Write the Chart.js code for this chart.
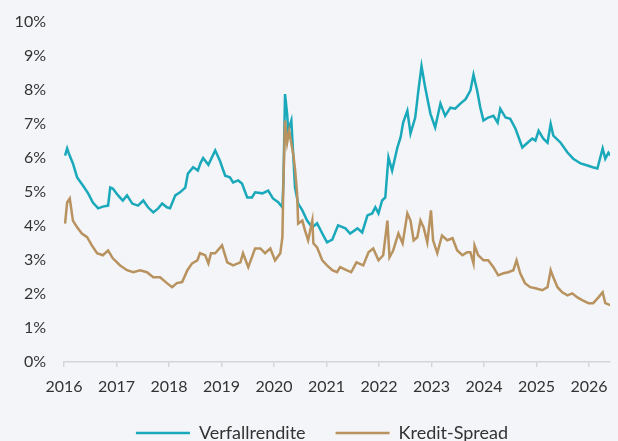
<!DOCTYPE html>
<html lang="de">
<head>
<meta charset="utf-8">
<title>Verfallrendite und Kredit-Spread</title>
<script src="https://cdn.jsdelivr.net/npm/chart.js@4/dist/chart.umd.min.js"></script>
<style>
  html, body { margin: 0; padding: 0; background: #f3f5f8; }
  #wrap { width: 618px; height: 441px; position: relative; }
</style>
</head>
<body>
<div id="wrap"><canvas id="chart"></canvas></div>
<script>
/* Werte (Dezimaljahre, Prozent) */
const yieldDates = [
  2016.02, 2016.06, 2016.10, 2016.17, 2016.25, 2016.36, 2016.46, 2016.55, 2016.65, 2016.74,
  2016.84, 2016.88, 2016.93, 2017.03, 2017.12, 2017.20, 2017.30, 2017.41, 2017.51, 2017.60,
  2017.70, 2017.79, 2017.87, 2017.96, 2018.02, 2018.12, 2018.21, 2018.31, 2018.36, 2018.46,
  2018.55, 2018.60, 2018.65, 2018.75, 2018.88, 2018.97, 2019.07, 2019.16, 2019.22, 2019.32,
  2019.39, 2019.49, 2019.58, 2019.64, 2019.78, 2019.89, 2019.98, 2020.08, 2020.16, 2020.18,
  2020.21, 2020.25, 2020.27, 2020.33, 2020.37, 2020.40, 2020.46, 2020.54, 2020.63, 2020.73,
  2020.82, 2020.92, 2021.01, 2021.11, 2021.22, 2021.36, 2021.45, 2021.59, 2021.68, 2021.78,
  2021.87, 2021.93, 2021.99, 2022.06, 2022.12, 2022.18, 2022.25, 2022.35, 2022.41, 2022.46,
  2022.54, 2022.60, 2022.69, 2022.75, 2022.81, 2022.88, 2022.98, 2023.07, 2023.17, 2023.26,
  2023.36, 2023.45, 2023.55, 2023.65, 2023.74, 2023.80, 2023.87, 2023.93, 2023.99, 2024.08,
  2024.18, 2024.26, 2024.31, 2024.41, 2024.50, 2024.60, 2024.73, 2024.83, 2024.92, 2024.98,
  2025.04, 2025.13, 2025.21, 2025.27, 2025.32, 2025.46, 2025.59, 2025.70, 2025.84, 2025.97,
  2026.07, 2026.16, 2026.26, 2026.31, 2026.37, 2026.41
];
const yieldValues = [
  6.07, 6.28, 6.10, 5.84, 5.43, 5.19, 4.96, 4.69, 4.52, 4.57,
  4.60, 5.13, 5.10, 4.90, 4.75, 4.90, 4.66, 4.60, 4.75, 4.55,
  4.40, 4.51, 4.66, 4.55, 4.52, 4.90, 4.99, 5.13, 5.54, 5.73,
  5.63, 5.85, 6.00, 5.80, 6.22, 5.92, 5.48, 5.43, 5.28, 5.34,
  5.25, 4.84, 4.84, 4.99, 4.96, 5.04, 4.81, 4.70, 4.55, 5.34,
  7.88, 7.30, 6.80, 7.10, 6.00, 5.13, 4.66, 4.46, 4.16, 3.96,
  4.08, 3.78, 3.52, 3.60, 4.02, 3.93, 3.78, 3.93, 3.81, 4.31,
  4.37, 4.55, 4.37, 4.75, 4.84, 6.02, 5.63, 6.31, 6.60, 7.04,
  7.39, 6.72, 7.19, 7.98, 8.70, 8.07, 7.30, 6.90, 7.60, 7.24,
  7.48, 7.45, 7.60, 7.73, 7.98, 8.45, 7.98, 7.48, 7.10, 7.19,
  7.24, 7.04, 7.45, 7.19, 7.15, 6.86, 6.31, 6.45, 6.57, 6.51,
  6.80, 6.57, 6.45, 7.00, 6.66, 6.45, 6.16, 5.98, 5.84, 5.78,
  5.73, 5.69, 6.28, 5.98, 6.16, 6.07
];

const spreadDates = [
  2016.02, 2016.06, 2016.11, 2016.17, 2016.25, 2016.34, 2016.44, 2016.53, 2016.63, 2016.74,
  2016.84, 2016.93, 2017.07, 2017.20, 2017.32, 2017.45, 2017.58, 2017.70, 2017.83, 2017.96,
  2018.06, 2018.15, 2018.25, 2018.35, 2018.44, 2018.54, 2018.59, 2018.69, 2018.75, 2018.80,
  2018.88, 2019.01, 2019.11, 2019.22, 2019.36, 2019.41, 2019.51, 2019.64, 2019.74, 2019.83,
  2019.93, 2020.02, 2020.12, 2020.16, 2020.18, 2020.21, 2020.25, 2020.29, 2020.37, 2020.40,
  2020.44, 2020.46, 2020.54, 2020.59, 2020.65, 2020.73, 2020.75, 2020.82, 2020.92, 2021.01,
  2021.11, 2021.20, 2021.26, 2021.38, 2021.47, 2021.57, 2021.70, 2021.80, 2021.89, 2021.99,
  2022.08, 2022.16, 2022.20, 2022.27, 2022.37, 2022.45, 2022.54, 2022.60, 2022.66, 2022.73,
  2022.79, 2022.85, 2022.92, 2022.99, 2023.03, 2023.11, 2023.20, 2023.30, 2023.40, 2023.49,
  2023.59, 2023.68, 2023.74, 2023.80, 2023.82, 2023.89, 2023.99, 2024.08, 2024.18, 2024.27,
  2024.37, 2024.46, 2024.56, 2024.62, 2024.69, 2024.78, 2024.88, 2024.98, 2025.11, 2025.21,
  2025.27, 2025.32, 2025.40, 2025.49, 2025.59, 2025.68, 2025.78, 2025.87, 2025.99, 2026.08,
  2026.18, 2026.26, 2026.31, 2026.41
];
const spreadValues = [
  4.07, 4.69, 4.81, 4.16, 3.96, 3.78, 3.67, 3.43, 3.20, 3.14,
  3.28, 3.05, 2.84, 2.70, 2.64, 2.70, 2.64, 2.49, 2.49, 2.32,
  2.20, 2.32, 2.35, 2.70, 2.90, 2.99, 3.20, 3.14, 2.90, 3.20,
  3.20, 3.43, 2.93, 2.84, 2.93, 3.20, 2.79, 3.34, 3.34, 3.20,
  3.34, 2.99, 3.20, 3.67, 5.34, 7.10, 6.45, 6.80, 6.07, 5.69,
  4.96, 4.07, 4.16, 3.87, 3.58, 4.16, 3.49, 3.37, 2.99, 2.84,
  2.70, 2.64, 2.79, 2.70, 2.64, 2.93, 2.84, 3.23, 3.34, 2.99,
  3.14, 4.16, 3.08, 3.28, 3.78, 3.49, 4.37, 4.16, 3.58, 3.67,
  4.16, 3.96, 3.52, 4.46, 3.58, 3.20, 3.72, 3.58, 3.64, 3.28,
  3.14, 3.23, 3.23, 2.90, 3.43, 3.14, 2.99, 2.99, 2.79, 2.55,
  2.61, 2.64, 2.70, 2.99, 2.61, 2.32, 2.20, 2.17, 2.11, 2.20,
  2.70, 2.49, 2.20, 2.05, 1.96, 2.02, 1.90, 1.82, 1.73, 1.73,
  1.90, 2.05, 1.73, 1.67
];

const seriesLabels = ['Verfallrendite', 'Kredit-Spread'];
const seriesColors = ['#1aa8bb', '#b8925f'];

const toPoints = (xs, ys) => xs.map((x, i) => ({ x, y: ys[i] }));

const textColor = '#333333';
const axisColor = '#d2d5da';
const fontFamily = 'Lato, "Open Sans", sans-serif';

// Legende sitzt in der Vorlage etwas rechts der Bildmitte
const legendShift = {
  id: 'legendShift',
  afterLayout(chart) {
    chart.legend.left += 17;
    chart.legend.right += 17;
  },
};

new Chart(document.getElementById('chart'), {
  type: 'line',
  data: {
    datasets: [
      {
        label: seriesLabels[0],
        data: toPoints(yieldDates, yieldValues),
        borderColor: seriesColors[0],
        backgroundColor: seriesColors[0],
        borderWidth: 2.5,
        pointRadius: 0,
        tension: 0,
        order: 1,
      },
      {
        label: seriesLabels[1],
        data: toPoints(spreadDates, spreadValues),
        borderColor: seriesColors[1],
        backgroundColor: seriesColors[1],
        borderWidth: 2.5,
        pointRadius: 0,
        tension: 0,
        order: 0,
      },
    ],
  },
  plugins: [legendShift],
  options: {
    responsive: true,
    maintainAspectRatio: false,
    animation: false,
    layout: { padding: { left: 0, right: 8, top: 22, bottom: -11 } },
    plugins: {
      tooltip: { enabled: false },
      legend: {
        position: 'bottom',
        labels: {
          usePointStyle: true,
          pointStyle: 'line',
          pointStyleWidth: 54,
          padding: 30,
          color: textColor,
          font: { family: fontFamily, size: 18 },
          sort: (a, b) => a.datasetIndex - b.datasetIndex,
        },
      },
    },
    scales: {
      x: {
        type: 'linear',
        min: 2016,
        max: 2026.4,
        afterFit: (scale) => { scale.height = 32; },
        border: { display: true, color: axisColor, width: 1.5 },
        grid: { display: true, drawOnChartArea: false, drawTicks: true, tickLength: 5, color: axisColor, lineWidth: 1.5 },
        ticks: {
          stepSize: 1,
          includeBounds: false,
          padding: 10,
          maxRotation: 0,
          color: textColor,
          font: { family: fontFamily, size: 16 },
          callback: (v) => (Number.isInteger(v) ? String(v) : ''),
        },
      },
      y: {
        min: 0,
        max: 10,
        afterFit: (scale) => { scale.width = 64; },
        border: { display: false },
        // unsichtbare Tick-Länge als Abstand zwischen Beschriftung und Plotfläche
        grid: { display: false, drawTicks: true, tickLength: 18 },
        ticks: {
          stepSize: 1,
          padding: 0,
          color: textColor,
          font: { family: fontFamily, size: 16 },
          callback: (v) => v + '%',
        },
      },
    },
  },
});
</script>
</body>
</html>
